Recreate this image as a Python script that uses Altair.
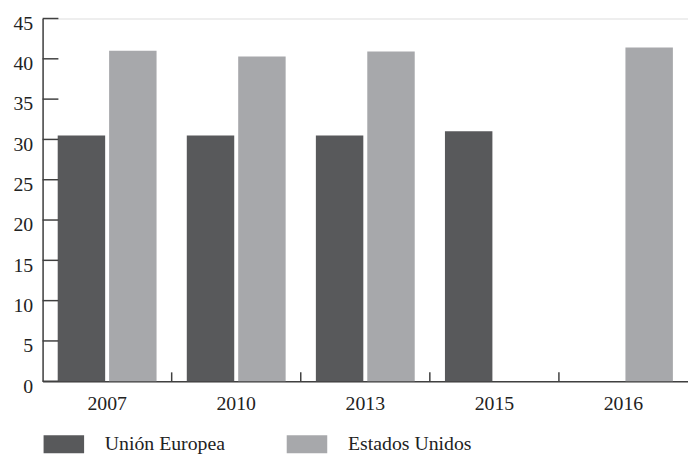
import altair as alt
import pandas as pd

years = ["2007", "2010", "2013", "2015", "2016"]
eu_values = [30.5, 30.5, 30.5, 31.0, None]
us_values = [41.0, 40.3, 40.9, None, 41.4]
series = ["Unión Europea", "Estados Unidos"]
colors = ["#58595b", "#a7a8ab"]
y_tick_values = [0, 5, 10, 15, 20, 25, 30, 35, 40, 45]
x_tick_years = ["2010", "2013", "2015", "2016"]

rows = []
for yr, a, b in zip(years, eu_values, us_values):
    if a is not None:
        rows.append({"year": yr, "series": series[0], "value": a})
    if b is not None:
        rows.append({"year": yr, "series": series[1], "value": b})
df = pd.DataFrame(rows)
ytick_df = pd.DataFrame({"v": y_tick_values})
xtick_df = pd.DataFrame({"year": x_tick_years})

W, H = 653, 367
axis_color = "#404040"
font = "Liberation Serif"

x_scale = alt.Scale(domain=years, paddingInner=0, paddingOuter=0)
y_scale = alt.Scale(domain=[0, 45], nice=False)

bars = alt.Chart(df).mark_bar().encode(
    x=alt.X("year:N", scale=x_scale,
            axis=alt.Axis(title=None, labelAngle=0, ticks=False, tickSize=0,
                          domainColor=axis_color, domainWidth=1.5,
                          labelPadding=13, labelColor="#222", labelFontSize=20)),
    xOffset=alt.XOffset("series:N", sort=series,
                        scale=alt.Scale(domain=series, paddingInner=0.077, paddingOuter=0.294)),
    y=alt.Y("value:Q", scale=y_scale,
            axis=alt.Axis(title=None, values=y_tick_values, ticks=False, tickSize=0,
                          grid=False, domainColor=axis_color, domainWidth=1.5,
                          labelPadding=10, labelOffset=5, labelColor="#222",
                          labelFontSize=20)),
    color=alt.Color("series:N", sort=series,
                    scale=alt.Scale(domain=series, range=colors),
                    legend=alt.Legend(title=None, orient="none", legendX=1, legendY=410,
                                      direction="horizontal", padding=0,
                                      symbolType="M-1,-0.44H1V0.44H-1Z",
                                      symbolSize=1681, symbolStrokeWidth=0,
                                      labelOffset=21, columnPadding=62,
                                      labelFontSize=20, labelColor="#222",
                                      labelFont=font)),
)

yticks = alt.Chart(ytick_df).mark_rule(color=axis_color, strokeWidth=1.5).encode(
    y=alt.Y("v:Q", scale=y_scale),
    x=alt.value(0),
    x2=alt.value(16),
)

xticks = alt.Chart(xtick_df).mark_rule(color=axis_color, strokeWidth=1.5).encode(
    x=alt.X("year:N", scale=x_scale, bandPosition=0),
    y=alt.value(H - 9),
    y2=alt.value(H),
)

chart = alt.layer(bars, yticks, xticks).properties(
    width=W, height=H,
    autosize=alt.AutoSizeParams(type="none"),
    padding={"left": 35, "top": 8, "right": 0, "bottom": 73},
).configure_view(stroke=None).configure(font=font)

chart.save("out.html", embed_options={"renderer": "svg", "actions": False})
